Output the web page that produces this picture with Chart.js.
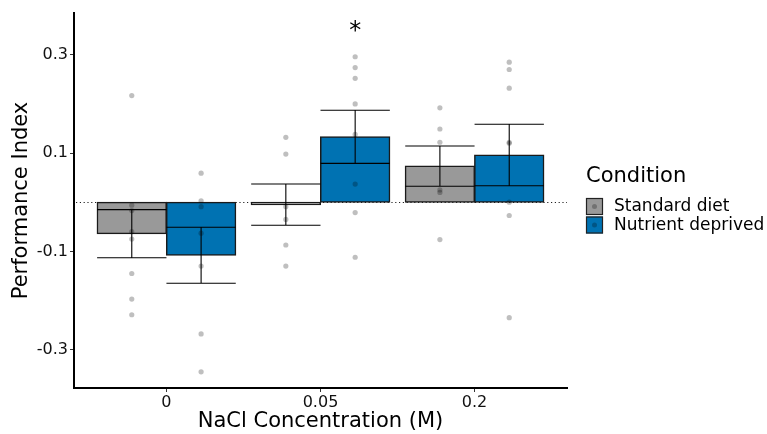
<!DOCTYPE html>
<html>
<head>
<meta charset="utf-8">
<script src="https://cdn.jsdelivr.net/npm/chart.js@4/dist/chart.umd.min.js"></script>
<style>
  html, body { margin: 0; padding: 0; background: #ffffff; }
  #wrap { width: 767px; height: 434px; }
</style>
</head>
<body>
<div id="wrap"><canvas id="c" width="767" height="434"></canvas></div>
<script>
// ---- data ----
const concentrations = ['0', '0.05', '0.2'];
const conditions = ['Standard diet', 'Nutrient deprived'];
const yTickValues = [-0.3, -0.1, 0.1, 0.3];

const standardMean = [-0.064, -0.005, 0.0735];
const deprivedMean = [-0.108, 0.133, 0.096];
const standardSE = [0.049, 0.042, 0.041];
const deprivedSE = [0.057, 0.054, 0.0625];

const standardPoints = [
  [0.217, -0.006, -0.017, -0.060, -0.075, -0.145, -0.197, -0.229],
  [0.132, 0.098, -0.009, -0.035, -0.087, -0.130],
  [0.192, 0.149, 0.122, 0.025, 0.020, -0.076]
];
const deprivedPoints = [
  [0.059, 0.003, -0.009, -0.063, -0.130, -0.268, -0.345],
  [0.296, 0.274, 0.252, 0.200, 0.138, 0.037, -0.021, -0.112],
  [0.285, 0.270, 0.232, 0.122, 0.120, 0.000, -0.027, -0.235]
];
const deprivedSignificance = ['', '*', ''];

// ---- styling ----
const FONT = "'DejaVu Sans', 'Liberation Sans', sans-serif";
const colors = ['#999999', '#0072B2'];
const dodge = 0.225;

const barData = (means) => means.map((v, i) => ({ x: i + 1, y: v }));
const pointData = (groups, side) => {
  const out = [];
  groups.forEach((vals, i) => vals.forEach(v => out.push({ x: i + 1 + side * dodge, y: v })));
  return out;
};

const means = [standardMean, deprivedMean];
const ses = [standardSE, deprivedSE];

const extrasPlugin = {
  id: 'extras',
  beforeDatasetsDraw(chart) {
    const { ctx, chartArea, scales } = chart;
    const y0 = scales.y.getPixelForValue(0);
    ctx.save();
    ctx.strokeStyle = '#222';
    ctx.lineWidth = 1;
    ctx.setLineDash([1.2, 2.6]);
    ctx.beginPath();
    ctx.moveTo(chartArea.left + 2, Math.round(y0) + 0.5);
    ctx.lineTo(chartArea.right, Math.round(y0) + 0.5);
    ctx.stroke();
    ctx.restore();
  },
  afterDatasetDraw(chart, args) {
    if (args.index !== 0) return;
    const { ctx, scales } = chart;
    ctx.save();
    ctx.strokeStyle = '#000';
    ctx.lineWidth = 1.1;
    [0, 1].forEach(d => {
      const meta = chart.getDatasetMeta(d);
      meta.data.forEach((bar, i) => {
        const x = bar.x, half = bar.width / 2;
        const yl = scales.y.getPixelForValue(means[d][i] - ses[d][i]);
        const yu = scales.y.getPixelForValue(means[d][i] + ses[d][i]);
        ctx.beginPath();
        ctx.moveTo(x, yl); ctx.lineTo(x, yu);
        ctx.moveTo(x - half, yl); ctx.lineTo(x + half, yl);
        ctx.moveTo(x - half, yu); ctx.lineTo(x + half, yu);
        ctx.stroke();
      });
    });
    ctx.restore();
  },
  afterDraw(chart) {
    const { ctx, scales } = chart;
    ctx.save();
    // significance marks
    const meta = chart.getDatasetMeta(1);
    ctx.fillStyle = '#000';
    ctx.font = '24px ' + FONT;
    ctx.textAlign = 'center';
    ctx.textBaseline = 'middle';
    deprivedSignificance.forEach((s, i) => {
      if (!s) return;
      const top = Math.max(...deprivedPoints[i]);
      ctx.fillText(s, meta.data[i].x, scales.y.getPixelForValue(top + 0.05));
    });
    // legend
    const lx = 586, ty = 177;
    ctx.textAlign = 'left';
    ctx.font = '21px ' + FONT;
    ctx.fillText('Condition', lx, ty);
    ctx.font = '17px ' + FONT;
    const keySize = 17;
    conditions.forEach((name, k) => {
      const ky = 198 + k * 18.5;
      ctx.fillStyle = colors[k];
      ctx.fillRect(lx, ky, keySize, keySize);
      ctx.strokeStyle = '#222';
      ctx.lineWidth = 1.2;
      ctx.strokeRect(lx + 0.5, ky + 0.5, keySize - 1, keySize - 1);
      ctx.fillStyle = 'rgba(0,0,0,0.25)';
      ctx.beginPath();
      ctx.arc(lx + keySize / 2, ky + keySize / 2, 2.5, 0, Math.PI * 2);
      ctx.fill();
      ctx.fillStyle = '#000';
      ctx.fillText(name, lx + 28, ky + keySize / 2 + 0.5);
    });
    ctx.restore();
  }
};

new Chart(document.getElementById('c'), {
  type: 'bar',
  data: {
    datasets: [
      { type: 'bar', label: conditions[0], data: barData(standardMean), backgroundColor: colors[0],
        borderColor: '#1a1a1a', borderWidth: 1.5, borderSkipped: false, order: 1, inflateAmount: 0.5,
        categoryPercentage: 0.9, barPercentage: 1.0 },
      { type: 'bar', label: conditions[1], data: barData(deprivedMean), backgroundColor: colors[1],
        borderColor: '#1a1a1a', borderWidth: 1.5, borderSkipped: false, order: 1, inflateAmount: 0.5,
        categoryPercentage: 0.9, barPercentage: 1.0 },
      { type: 'scatter', label: conditions[0] + ' points', data: pointData(standardPoints, -1),
        backgroundColor: 'rgba(0,0,0,0.25)', borderWidth: 0, pointRadius: 2.6, order: 0 },
      { type: 'scatter', label: conditions[1] + ' points', data: pointData(deprivedPoints, 1),
        backgroundColor: 'rgba(0,0,0,0.25)', borderWidth: 0, pointRadius: 2.6, order: 0 }
    ]
  },
  options: {
    responsive: false,
    devicePixelRatio: 1,
    animation: false,
    layout: { padding: { top: 13, right: 200, left: 0, bottom: 0 } },
    plugins: { legend: { display: false }, tooltip: { enabled: false } },
    scales: {
      x: {
        type: 'linear',
        offset: false,
        min: 0.4, max: 3.6,
        afterFit(s) { s.height = 46; },
        afterBuildTicks(s) { s.ticks = concentrations.map((_, i) => ({ value: i + 1 })); },
        ticks: {
          autoSkip: false, padding: 1, color: '#111',
          font: { family: FONT, size: 16 },
          callback: (v) => concentrations[Math.round(v) - 1]
        },
        grid: { display: true, offset: false, drawOnChartArea: false, drawTicks: true, tickLength: 4, color: '#333', lineWidth: 1 },
        border: { display: true, color: '#000', width: 2 },
        title: { display: true, text: 'NaCl Concentration (M)', color: '#000',
          font: { family: FONT, size: 21 }, padding: { top: 0, bottom: 0 } }
      },
      y: {
        type: 'linear',
        min: -0.378, max: 0.385,
        afterFit(s) { s.width = 74; },
        afterBuildTicks(s) { s.ticks = yTickValues.map(v => ({ value: v })); },
        ticks: {
          autoSkip: false, padding: 2, color: '#111',
          font: { family: FONT, size: 16 },
          callback: (v) => String(Math.round(v * 10) / 10)
        },
        grid: { display: true, drawOnChartArea: false, drawTicks: true, tickLength: 4, color: '#333', lineWidth: 1 },
        border: { display: true, color: '#000', width: 2 },
        title: { display: true, text: 'Performance Index', color: '#000',
          font: { family: FONT, size: 21 }, padding: { top: 9, bottom: 0 } }
      }
    }
  },
  plugins: [extrasPlugin]
});
</script>
</body>
</html>
